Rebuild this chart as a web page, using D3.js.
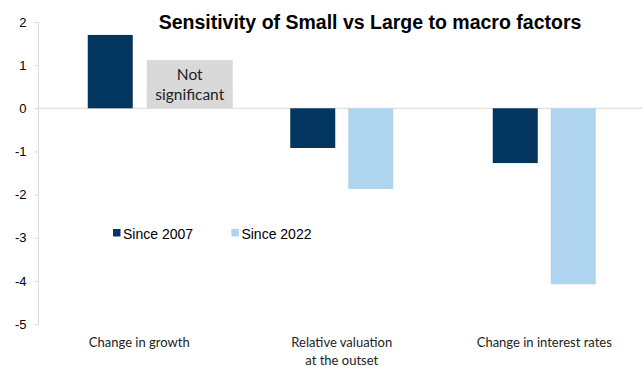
<!DOCTYPE html>
<html>
<head>
<meta charset="utf-8">
<script src="https://cdn.jsdelivr.net/npm/d3@7"></script>
<style>
  html, body { margin: 0; padding: 0; background: #fff; }
  svg { display: block; }
</style>
</head>
<body>
<svg id="chart" width="643" height="367"></svg>
<script>
// Macro factor categories (second line of a label after "|")
const categories = ["Change in growth", "Relative valuation|at the outset", "Change in interest rates"];
const seriesNames = ["Since 2007", "Since 2022"];
const since2007 = [1.7, -0.92, -1.27];
const since2022 = [null, -1.87, -4.08];   // null: not significant
const notSignificantLabel = ["Not", "significant"];
const notSignificantBoxValue = 1.12;
const yTicks = [2, 1, 0, -1, -2, -3, -4, -5];

const colors = ["#02365F", "#AED4EF"];
const W = 643, H = 367;
const svg = d3.select("#chart");

const y = d3.scaleLinear().domain([-5, 2]).range([324, 22]);
const x = d3.scaleBand().domain(categories).range([38, 645.5]).paddingInner(0).paddingOuter(0);
const inner = d3.scaleBand().domain(seriesNames).range([0, 103]).paddingInner(13 / 58);
const groupOffset = (x.bandwidth() - 103) / 2;
const center = c => x(c) + x.bandwidth() / 2;

// zero gridline
svg.append("line")
  .attr("x1", 38).attr("x2", W)
  .attr("y1", y(0)).attr("y2", y(0))
  .attr("stroke", "#D9D9D9").attr("stroke-width", 1);

// y axis (plain hyphen for negatives)
const yAxis = d3.axisLeft(y).tickValues(yTicks).tickSize(4).tickPadding(8).tickFormat(d => String(d));
const gy = svg.append("g").attr("transform", "translate(38.5,0)").call(yAxis);
gy.select(".domain").attr("stroke", "#D9D9D9").attr("d", `M0,${y(2)}V${y(-5)}`);
gy.selectAll(".tick line").attr("stroke", "#D9D9D9");
gy.selectAll(".tick text")
  .attr("font-family", "Liberation Sans, Arial, sans-serif")
  .attr("font-size", 13).attr("fill", "#000");

// bars
const rows = categories.map((c, i) => ({ cat: c, vals: [since2007[i], since2022[i]] }));
const groups = svg.append("g").selectAll("g").data(rows).join("g")
  .attr("transform", d => `translate(${x(d.cat) + groupOffset},0)`);
groups.selectAll("rect")
  .data(d => d.vals.map((v, j) => ({ v, s: seriesNames[j], j })).filter(e => e.v !== null))
  .join("rect")
  .attr("x", e => inner(e.s))
  .attr("width", inner.bandwidth())
  .attr("y", e => y(Math.max(0, e.v)))
  .attr("height", e => Math.abs(y(e.v) - y(0)))
  .attr("fill", e => colors[e.j]);

// "Not significant" box in place of missing bars
rows.forEach((d, i) => {
  d.vals.forEach((v, j) => {
    if (v !== null) return;
    const bx = x(d.cat) + groupOffset + inner(seriesNames[j]) + 1;
    const bw = inner.bandwidth() + 41;
    const top = y(notSignificantBoxValue);
    svg.append("rect")
      .attr("x", bx).attr("y", top)
      .attr("width", bw).attr("height", y(0) - top)
      .attr("fill", "#D9D9D9");
    svg.append("text")
      .attr("x", bx + bw / 2).attr("y", top)
      .attr("text-anchor", "middle")
      .attr("font-family", "Lato, sans-serif").attr("font-size", 15.5).attr("fill", "#222")
      .selectAll("tspan").data(notSignificantLabel).join("tspan")
      .attr("x", bx + bw / 2)
      .attr("dy", 20)
      .text(t => t);
  });
});

// category labels
svg.append("g").selectAll("text").data(categories).join("text")
  .attr("x", c => center(c))
  .attr("y", 347)
  .attr("text-anchor", "middle")
  .attr("font-family", "Lato, sans-serif").attr("font-size", 13).attr("fill", "#222")
  .selectAll("tspan").data(c => c.split("|").map(t => ({ t, c }))).join("tspan")
  .attr("x", o => center(o.c))
  .attr("dy", (o, k) => k === 0 ? 0 : 18)
  .text(o => o.t);

// legend
const legend = svg.append("g").selectAll("g").data(seriesNames).join("g")
  .attr("transform", (s, i) => `translate(${113 + i * 118.4},0)`);
legend.append("rect").attr("x", 0).attr("y", 229).attr("width", 7.5).attr("height", 7.5)
  .attr("fill", (s, i) => colors[i]);
legend.append("text").attr("x", 10).attr("y", 238.5)
  .attr("font-family", "Liberation Sans, Arial, sans-serif").attr("font-size", 14).attr("fill", "#000")
  .text(s => s);

// title
svg.append("text")
  .attr("x", 370).attr("y", 29)
  .attr("text-anchor", "middle")
  .attr("font-family", "Liberation Sans, Arial, sans-serif")
  .attr("font-weight", "bold").attr("font-size", 19.5).attr("fill", "#000")
  .text("Sensitivity of Small vs Large to macro factors");
</script>
</body>
</html>
